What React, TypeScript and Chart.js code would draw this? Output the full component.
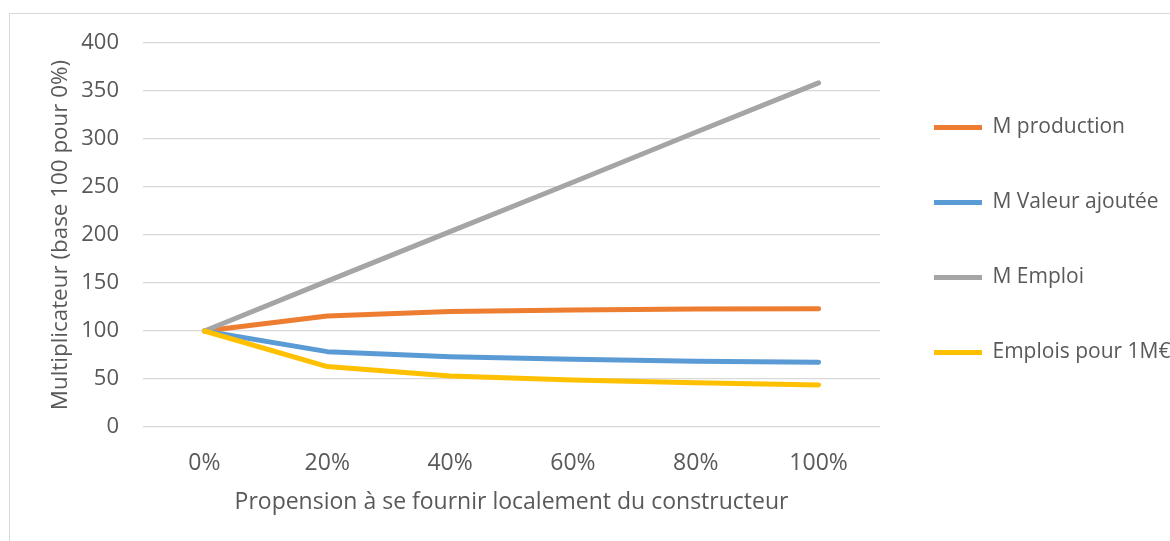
import React, { useEffect, useRef } from "react";
import { Chart, registerables } from "chart.js";

Chart.register(...registerables);

const categories = ["0%", "20%", "40%", "60%", "80%", "100%"];
const seriesNames = ["M production", "M Valeur ajoutée", "M Emploi", "Emplois pour 1M€"];
const mProduction = [100, 115.6, 120.2, 121.9, 123, 123.3];
const mValeurAjoutee = [100, 78.5, 73.3, 70.5, 68.5, 67.4];
const mEmploi = [100, 152, 203.5, 255, 307, 358.5];
const emploisPour1M = [100, 62.9, 53.1, 49, 46.2, 43.7];
const seriesColors = ["#ED7D31", "#5B9BD5", "#A5A5A5", "#FFC000"];
const yTitle = "Multiplicateur (base 100 pour 0%)";
const xTitle = "Propension à se fournir localement du constructeur";

const FONT = "'Open Sans', 'Liberation Sans', sans-serif";
const TEXT = "#595959";
const GRID = "#D9D9D9";

export default function App() {
  const ref = useRef<HTMLCanvasElement | null>(null);

  useEffect(() => {
    if (!ref.current) return;
    const values = [mProduction, mValeurAjoutee, mEmploi, emploisPour1M];
    const chart = new Chart(ref.current, {
      type: "line",
      data: {
        labels: categories,
        datasets: values.map((v, i) => ({
          label: seriesNames[i],
          data: v,
          borderColor: seriesColors[i],
          backgroundColor: seriesColors[i],
          borderWidth: 5,
          borderCapStyle: "round" as const,
          borderJoinStyle: "round" as const,
          pointRadius: 0,
          pointStyle: "line" as const,
          tension: 0,
          fill: false,
          order: values.length - 1 - i,
        })),
      },
      options: {
        animation: false,
        responsive: false,
        layout: { padding: { left: 20, top: 29, right: 0, bottom: 24.8 } },
        scales: {
          x: {
            offset: true,
            grid: { display: false, drawTicks: false },
            border: { display: false },
            ticks: { color: TEXT, font: { family: FONT, size: 23 }, padding: 23, maxRotation: 0 },
            title: {
              display: true,
              text: xTitle,
              color: TEXT,
              font: { family: FONT, size: 23 },
              padding: { top: -12, bottom: 0 },
            },
          },
          y: {
            min: 0,
            max: 400,
            afterFit: (scale: any) => {
              scale.width = 113;
              scale.paddingTop = 0;
            },
            grid: { color: GRID, lineWidth: 1.3, drawTicks: false },
            border: { display: false },
            ticks: { stepSize: 50, color: TEXT, font: { family: FONT, size: 22 }, padding: 24 },
            title: {
              display: true,
              text: yTitle,
              color: TEXT,
              font: { family: FONT, size: 22.4 },
              padding: { top: 17.5, bottom: 0 },
            },
          },
        },
        plugins: {
          tooltip: { enabled: false },
          legend: {
            position: "right",
            fullSize: false,
            maxWidth: 290,
            title: {
              display: true,
              text: "",
              font: { family: FONT, size: 0 },
              padding: { top: 10, bottom: 0 },
            },
            labels: {
              color: TEXT,
              font: { family: FONT, size: 21 },
              usePointStyle: true,
              pointStyleWidth: 48,
              padding: 54,
              sort: (a: any, b: any) => a.datasetIndex - b.datasetIndex,
            },
          },
        },
      },
    });
    return () => chart.destroy();
  }, []);

  return (
    <div
      style={{
        position: "absolute",
        left: 9,
        top: 13,
        width: 1161,
        height: 528,
        borderLeft: `1px solid ${GRID}`,
        borderTop: `1px solid ${GRID}`,
        boxSizing: "border-box",
        background: "#fff",
      }}
    >
      <canvas ref={ref} width={1160} height={527} style={{ display: "block" }} />
    </div>
  );
}
